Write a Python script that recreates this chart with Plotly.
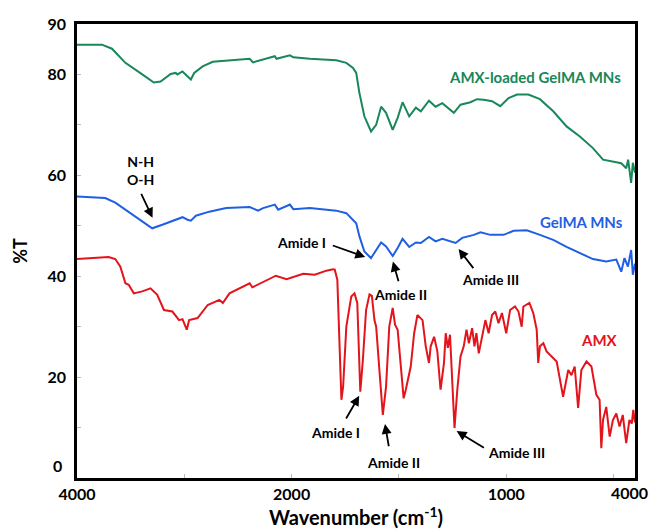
import numpy as np
import plotly.graph_objects as go

# ---------------- data (wavenumber cm-1, %T) ----------------
green_wn = [4000,3768,3674,3549,3392,3284,3221,3127,3080,3064,3017,2986,2939,2908,2829,2735,2547,2391,2360,2313,
            2157,2141,2016,1992,1915,1792,1745,1714,1699,1684,1661,1630,1606,1583,1560,1529,1506,1483,1452,1421,
            1398,1360,1329,1298,1244,1213,1167,1136,1105,1066,1028,989,950,897,843,781,719,657,596,549,
            503,464,441,432,418,410,400]
green_t = [85.9,85.9,85.1,82.3,80.0,78.4,78.6,80.1,80.3,80.0,80.6,80.0,79.0,80.3,81.6,82.5,82.9,83.1,82.4,82.7,
           83.6,83.1,83.8,83.4,83.1,82.8,82.3,81.3,80.3,76.3,71.7,68.7,70.0,73.6,72.4,69.0,71.4,74.5,71.7,73.4,
           72.7,74.8,73.6,74.3,72.4,74.0,74.5,75.1,75.0,74.7,73.7,75.3,76.0,76.0,75.1,72.7,69.7,67.7,65.4,63.1,
           62.8,62.4,61.4,63.1,58.5,62.5,60.5]

blue_wn = [4000,3737,3643,3486,3299,3205,3080,3017,2970,2939,2892,2767,2610,2391,2313,2266,2157,2125,2016,1992,
           1915,1792,1745,1714,1699,1684,1661,1630,1606,1583,1560,1529,1506,1483,1452,1421,1398,1360,1329,1298,
           1236,1205,1151,1120,1074,1012,966,904,843,781,719,657,596,534,487,464,449,433,418,410,400]
blue_t = [55.8,55.5,54.6,52.2,49.5,50.2,51.2,51.7,51.2,51.0,52.0,52.8,53.5,53.7,53.0,53.5,54.2,53.2,54.2,53.3,
          53.5,53.0,52.5,51.2,50.5,47.9,44.9,43.6,45.2,46.7,45.9,44.0,45.6,47.4,45.8,46.7,46.6,47.8,46.9,47.4,
          46.6,47.6,48.2,48.7,48.2,48.2,49.0,49.1,48.2,47.2,45.8,44.6,43.4,42.9,43.3,40.9,43.6,41.9,45.2,40.3,42.5]

red_wn = [4000,3706,3643,3596,3549,3518,3471,3392,3315,3252,3190,3111,3049,3017,2977,2955,2876,2782,2673,2641,
          2579,2391,2366,2266,2147,2047,1946,1892,1838,1807,1799,1787,1776,1768,1760,1745,1722,1707,1694,1688,
          1680,1668,1653,1637,1626,1614,1606,1591,1575,1560,1545,1529,1518,1506,1491,1478,1468,1452,1445,1429,
          1414,1390,1375,1360,1352,1336,1321,1306,1290,1282,1272,1262,1247,1241,1228,1213,1198,1185,1174,1159,
          1148,1139,1128,1112,1097,1082,1066,1051,1036,1020,1000,982,959,943,928,920,892,874,858,851,
          843,827,812,765,735,711,696,681,665,650,626,603,580,565,557,549,534,518,503,487,
          472,457,441,426,415,408,400]
red_t = [43.4,43.8,43.4,41.9,38.6,38.3,36.6,37.0,37.6,36.3,33.3,33.0,31.3,31.5,29.4,31.3,31.7,34.3,35.3,34.7,
         36.6,38.6,37.8,38.9,40.1,39.4,40.5,40.3,41.1,41.4,41.3,39.3,23.4,15.5,18.1,30.0,36.0,36.6,34.7,26.7,
         17.1,23.4,33.3,36.4,36.1,31.3,30.0,21.4,12.5,18.1,30.0,33.7,30.4,29.4,21.4,15.8,17.5,20.8,22.1,28.7,
         32.3,31.3,26.1,22.8,26.1,28.0,25.1,17.5,22.8,28.7,25.8,28.4,12.8,9.9,17.5,24.1,26.1,29.4,26.7,29.7,
         26.1,28.7,24.7,28.0,31.3,28.7,32.3,33.0,30.7,32.7,28.7,33.3,34.0,33.0,30.0,34.0,34.7,32.7,29.4,22.8,
         26.1,26.7,25.1,23.1,16.1,21.4,20.4,22.1,13.9,21.4,23.1,22.1,16.5,15.5,5.9,11.5,14.1,8.2,11.5,12.8,
         10.2,12.5,6.9,11.5,10.8,13.5,11.0]

x_tick_wn = [4000, 3000, 2000, 1500, 1000, 500, 400]
x_tick_text = ["4000", "", "2000", "", "1000", "", ""]
x_end_label = "4000"
y_tick_vals = [0, 10, 20, 30, 40, 50, 60, 70, 80, 90]
y_tick_text = ["", "", "20", "", "40", "", "60", "", "80", "90"]
y_zero_label = "0"


def pos(w):
    """Two-segment FTIR axis: 4000-2000 compressed 2x, 2000-400 linear."""
    w = np.asarray(w, dtype=float)
    return np.where(w >= 2000, (4000 - w) / 2.0, 1000 + (2000 - w))


FONT = "Lato"
GREEN = "#19875a"
BLUE = "#1f5fe3"
RED = "#e3141b"
PLOT_W = 651 - 77 - 16
PLOT_H = 532 - 24 - 54

fig = go.Figure()
for wn, t, c, name in [(red_wn, red_t, RED, "AMX"),
                       (blue_wn, blue_t, BLUE, "GelMA MNs"),
                       (green_wn, green_t, GREEN, "AMX-loaded GelMA MNs")]:
    fig.add_trace(go.Scatter(x=pos(wn), y=t, mode="lines", name=name,
                             line=dict(color=c, width=2), showlegend=False))

ann = []


def label(w, t, text, color, size=14, xanchor="center"):
    ann.append(dict(x=float(pos(w)), y=t, xref="x", yref="y", text=text, showarrow=False,
                    xanchor=xanchor, yanchor="middle",
                    font=dict(family=FONT, size=size, color=color, weight="bold")))


def arrow(w_head, t_head, w_tail, t_tail):
    ann.append(dict(x=float(pos(w_head)), y=t_head, ax=float(pos(w_tail)), ay=t_tail,
                    xref="x", yref="y", axref="x", ayref="y", text="", showarrow=True,
                    arrowhead=2, arrowsize=1.1, arrowwidth=1.8, arrowcolor="black"))


label(866, 79.4, "AMX-loaded GelMA MNs", GREEN, 15)
label(648, 50.8, "GelMA MNs", BLUE, 15)
label(565, 27.4, "AMX", RED, 15)

label(3408, 60.9, "N-H<br>O-H", "black", 14)
arrow(3296, 51.6, 3408, 56.6)

label(1829, 46.6, "Amide I", "black", 14, xanchor="right")
arrow(1657, 43.8, 1815, 46.2)
label(1495, 36.3, "Amide II", "black", 14)
arrow(1528, 42.9, 1500, 38.7)
label(1074, 39.3, "Amide III", "black", 14)
arrow(1222, 45.4, 1148, 41.3)

label(1796, 9.1, "Amide I", "black", 14)
arrow(1685, 16.3, 1750, 11.5)
label(1523, 3.0, "Amide II", "black", 14)
arrow(1565, 10.7, 1546, 6.0)
label(954, 5.0, "Amide III", "black", 14)
arrow(1231, 9.3, 1097, 5.8)

# end-of-axis labels placed as in the reference
ann.append(dict(x=1 + 15 / PLOT_W, y=-15 / PLOT_H, xref="paper", yref="paper", text=x_end_label,
                showarrow=False, xanchor="right", yanchor="middle",
                font=dict(family=FONT, size=16, weight="bold", color="black")))
ann.append(dict(x=-13 / PLOT_W, y=13 / PLOT_H, xref="paper", yref="paper", text=y_zero_label,
                showarrow=False, xanchor="right", yanchor="middle",
                font=dict(family=FONT, size=16, weight="bold", color="black")))

fig.update_layout(
    width=651, height=532,
    margin=dict(l=77, r=16, t=24, b=54),
    paper_bgcolor="white", plot_bgcolor="white",
    font=dict(family=FONT, size=14, color="black"),
    annotations=ann,
    xaxis=dict(range=[0, 2600], tickvals=pos(x_tick_wn), ticktext=x_tick_text,
               ticks="inside", ticklen=4, tickcolor="#bbbbbb", tickwidth=1,
               showgrid=False, zeroline=False, showline=True, mirror=True,
               linecolor="black", linewidth=2.5,
               tickfont=dict(family=FONT, size=16, weight="bold"),
               title=dict(text="Wavenumber (cm<sup>-1</sup>)", standoff=4,
                          font=dict(family=FONT, size=20, weight="bold"))),
    yaxis=dict(range=[0, 90], tickvals=y_tick_vals, ticktext=y_tick_text,
               ticks="inside", ticklen=4, tickcolor="#bbbbbb", tickwidth=1,
               ticklabelstandoff=5,
               showgrid=False, zeroline=False, showline=True, mirror=True,
               linecolor="black", linewidth=2.5,
               tickfont=dict(family=FONT, size=16, weight="bold"),
               title=dict(text="%T", standoff=16,
                          font=dict(family=FONT, size=18, weight="bold"))),
)

fig.write_html("out.html")
